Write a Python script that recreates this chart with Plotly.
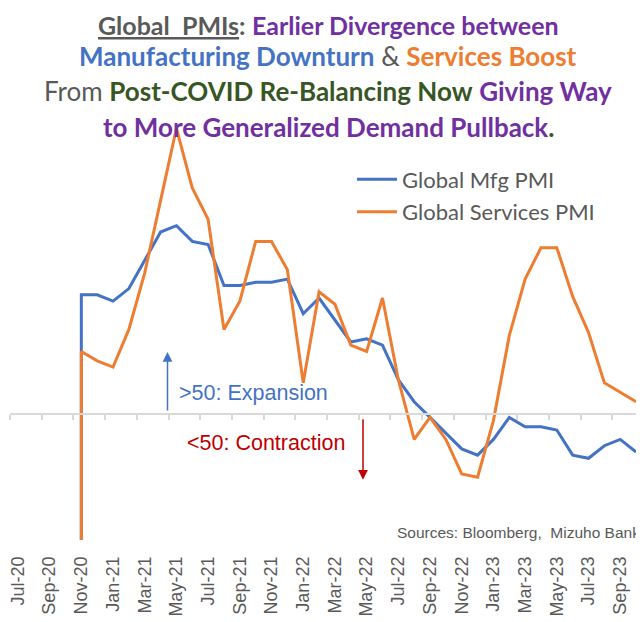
import plotly.graph_objects as go

# ---------------- data ----------------
axis_months = ["Jul-20", "Aug-20", "Sep-20", "Oct-20", "Nov-20", "Dec-20",
               "Jan-21", "Feb-21", "Mar-21", "Apr-21", "May-21", "Jun-21",
               "Jul-21", "Aug-21", "Sep-21", "Oct-21", "Nov-21", "Dec-21",
               "Jan-22", "Feb-22", "Mar-22", "Apr-22", "May-22", "Jun-22",
               "Jul-22", "Aug-22", "Sep-22", "Oct-22", "Nov-22", "Dec-22",
               "Jan-23", "Feb-23", "Mar-23", "Apr-23", "May-23", "Jun-23",
               "Jul-23", "Aug-23", "Sep-23", "Oct-23"]

data_months = axis_months[4:]  # Nov-20 .. Oct-23

mfg_pmi = [53.8, 53.8, 53.6, 54.0, 54.9, 55.8, 56.0, 55.5, 55.4, 54.1,
           54.1, 54.2, 54.2, 54.3, 53.2, 53.7, 53.0, 52.3, 52.4, 52.2,
           51.1, 50.4, 49.9, 49.4, 48.9, 48.7, 49.2, 49.9, 49.6, 49.6,
           49.5, 48.7, 48.6, 49.0, 49.2, 48.8]

svc_pmi = [52.0, 51.7, 51.5, 52.7, 54.5, 56.8, 59.1, 57.2, 56.2, 52.7,
           53.6, 55.5, 55.5, 54.6, 51.0, 53.9, 53.5, 52.2, 52.0, 53.7,
           51.1, 49.2, 49.9, 49.2, 48.1, 48.0, 49.8, 52.5, 54.3, 55.3,
           55.3, 53.75, 52.6, 51.0, 50.7, 50.4]

# each series is drawn rising from off-scale at its first month (as in the source chart)
series_start_value = 0.0
threshold = 50.0
y_min, y_max = 46.0, 60.0

# ---------------- layout geometry ----------------
# the page body adds an 8px margin, so screen px = figure px + 8
OFF = 8
W, H = 644 - OFF, 622 - OFF
PL, PR, PT, PB = 2, W, 91.5, 532.5
MONTH_PX = 15.85


def sx(px):
    """screen x pixel -> paper x"""
    return (px - OFF - PL) / (PR - PL)


def sy(py):
    """screen y pixel -> paper y"""
    return (PB - (py - OFF)) / (PB - PT)


idx = {m: i for i, m in enumerate(axis_months)}
x_data = [idx[m] for m in data_months]
x_series = [x_data[0]] + x_data

BLUE = "#4472C4"
ORANGE = "#ED7D31"
GRAY = "#595959"
PURPLE = "#7030A0"
GREEN = "#375623"
RED = "#C00000"

fig = go.Figure()

fig.add_trace(go.Scatter(
    x=x_series, y=[series_start_value] + mfg_pmi, mode="lines",
    name="Global Mfg PMI", legendgroup="a",
    line=dict(color=BLUE, width=3),
))
fig.add_trace(go.Scatter(
    x=x_series, y=[series_start_value] + svc_pmi, mode="lines",
    name="Global Services PMI", legendgroup="b",
    line=dict(color=ORANGE, width=3),
))
# invisible carrier for the 50-line axis
fig.add_trace(go.Scatter(
    x=list(range(len(axis_months))), y=[threshold] * len(axis_months),
    xaxis="x2", mode="lines", line=dict(width=0), opacity=0,
    showlegend=False, hoverinfo="skip",
))

x_range = [-0.5, -0.5 + (PR - PL) / MONTH_PX]
label_idx = list(range(0, len(axis_months), 2))

fig.update_layout(
    width=W, height=H,
    margin=dict(l=PL, r=W - PR, t=PT, b=H - PB),
    paper_bgcolor="white", plot_bgcolor="white",
    showlegend=True,
    legend=dict(
        x=sx(352), y=sy(158), xanchor="left", yanchor="top",
        font=dict(family="Lato", size=22, color=GRAY),
        bgcolor="rgba(0,0,0,0)", tracegroupgap=1, traceorder="grouped",
        itemwidth=40,
    ),
    xaxis=dict(
        range=x_range, showgrid=False, zeroline=False, showline=False,
        tickmode="array", tickvals=label_idx,
        ticktext=[axis_months[i] for i in label_idx],
        tickangle=-90, ticks="", ticklabelstandoff=12,
        ticklabeloverflow="allow",
        tickfont=dict(family="Liberation Sans, Arial", size=18, color=GRAY),
    ),
    xaxis2=dict(
        overlaying="x", anchor="free",
        position=(threshold - y_min) / (y_max - y_min),
        range=x_range, showgrid=False, zeroline=False,
        showline=True, linecolor="#D9D9D9", linewidth=1.5,
        ticks="outside", ticklen=5, tickcolor="#D9D9D9", tickwidth=1.5,
        tickmode="linear", tick0=-0.5, dtick=2, showticklabels=False,
    ),
    yaxis=dict(range=[y_min, y_max], visible=False, showgrid=False,
               zeroline=False),
)

TF = "Lato"
title_lines = [
    (24.5, 25, f"<span style='color:{GRAY}'><b><u>Global&nbsp; PMIs</u>:</b></span> "
               f"<span style='color:{PURPLE}'><b>Earlier Divergence between</b></span>"),
    (55, 26, f"<span style='color:{BLUE}'><b>Manufacturing Downturn</b></span> "
             f"<span style='color:{GRAY}'>&amp;</span> "
             f"<span style='color:{ORANGE}'><b>Services Boost</b></span>"),
    (90, 26, f"<span style='color:{GRAY}'>From</span> "
             f"<span style='color:{GREEN}'><b>Post-COVID Re-Balancing Now</b></span> "
             f"<span style='color:{PURPLE}'><b>Giving Way</b></span>"),
    (127, 26, f"<span style='color:{PURPLE}'><b>to More Generalized Demand Pullback</b></span>"
              f"<span style='color:{GREEN}'><b>.</b></span>"),
]
for py, fs, txt in title_lines:
    fig.add_annotation(
        xref="paper", yref="paper", x=sx(328), y=sy(py),
        xanchor="center", yanchor="middle", showarrow=False,
        text=txt, font=dict(family=TF, size=fs, color=GRAY),
    )

AF = "Liberation Sans, Arial"
fig.add_annotation(xref="paper", yref="paper", x=sx(177), y=sy(393),
                   xanchor="left", yanchor="middle", showarrow=False,
                   text=">50: Expansion",
                   font=dict(family=AF, size=21.5, color=BLUE))
fig.add_annotation(xref="paper", yref="paper", x=sx(185), y=sy(443),
                   xanchor="left", yanchor="middle", showarrow=False,
                   text="<50: Contraction",
                   font=dict(family=AF, size=21.5, color=RED))
# arrows
fig.add_annotation(xref="paper", yref="paper", x=sx(167.5), y=sy(352),
                   ax=0, ay=60, text="", showarrow=True, arrowhead=2,
                   arrowsize=1.3, arrowwidth=1.5, arrowcolor=BLUE)
fig.add_annotation(xref="paper", yref="paper", x=sx(363), y=sy(480),
                   ax=0, ay=-62, text="", showarrow=True, arrowhead=2,
                   arrowsize=1.3, arrowwidth=1.5, arrowcolor=RED)

fig.add_annotation(xref="paper", yref="paper", x=sx(395), y=sy(533),
                   xanchor="left", yanchor="middle", showarrow=False,
                   text="Sources: Bloomberg,&nbsp; Mizuho Bank",
                   font=dict(family=AF, size=15.5, color=GRAY))

fig.write_html("out.html")
